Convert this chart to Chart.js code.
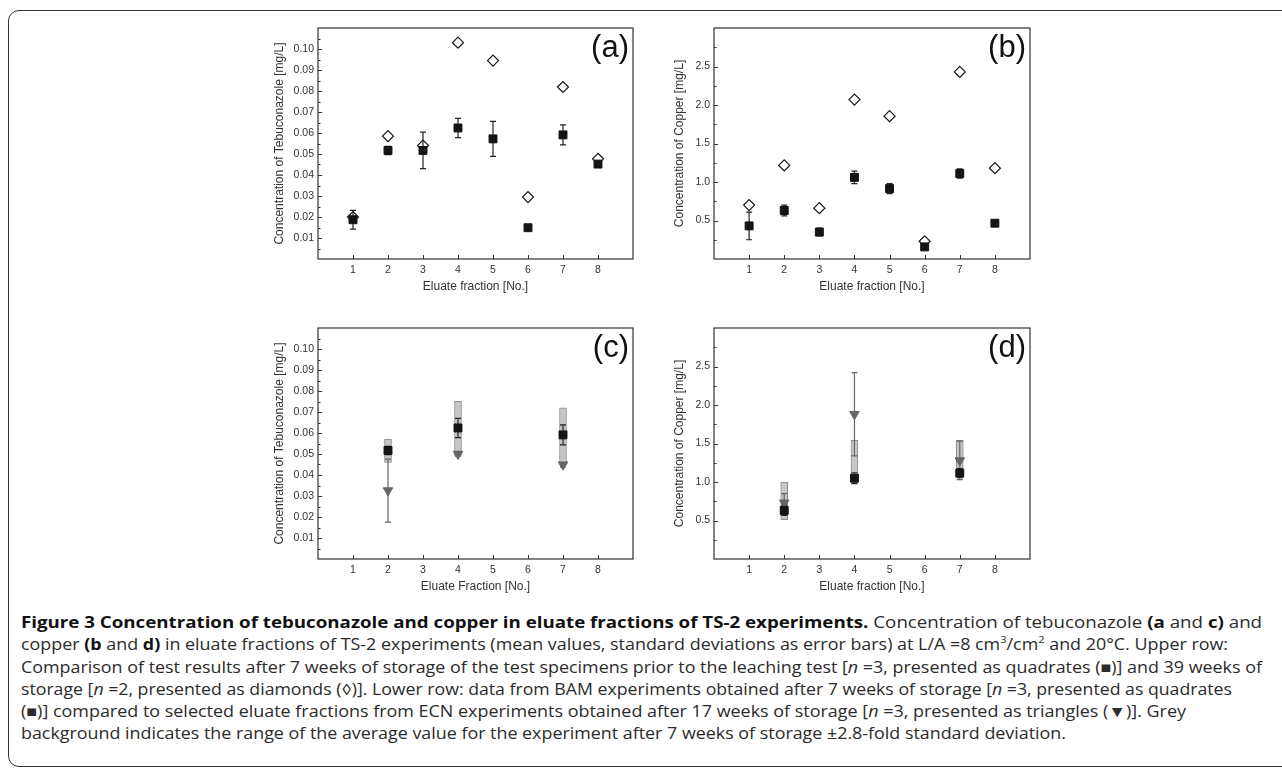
<!DOCTYPE html>
<html>
<head>
<meta charset="utf-8">
<script src="https://cdn.jsdelivr.net/npm/chart.js@4.4.1/dist/chart.umd.min.js"></script>
<style>
html,body{margin:0;padding:0;background:#fff;}
#page{position:absolute;left:0;top:0;width:1282px;height:770px;overflow:hidden;background:#fff;}
.frame{position:absolute;left:8px;top:10px;width:1400px;height:757px;border:1.6px solid #333;border-radius:11px;box-sizing:border-box;}
.panel{position:absolute;width:400px;height:300px;}
#caption{position:absolute;left:21px;top:611px;font-family:"Open Sans",sans-serif;color:#2b2b2b;white-space:nowrap;font-size:15.8px;}
#caption .ln{height:22.3px;line-height:22.3px;}
#caption .ln span{display:inline-block;transform-origin:0 50%;}
#caption b{color:#111;font-weight:700;}
#caption sup{font-size:0.62em;line-height:0;position:relative;top:-0.1em;}
</style>
</head>
<body>
<div id="page">
<div class="frame"></div>
<div class="panel" style="left:240px;top:0px;"><canvas id="pa" width="400" height="300"></canvas></div>
<div class="panel" style="left:640px;top:0px;"><canvas id="pb" width="400" height="300"></canvas></div>
<div class="panel" style="left:240px;top:300px;"><canvas id="pc" width="400" height="300"></canvas></div>
<div class="panel" style="left:640px;top:300px;"><canvas id="pd" width="400" height="300"></canvas></div>
<div id="caption">
<div class="ln"><span data-end="1262"><b>Figure 3 Concentration of tebuconazole and copper in eluate fractions of TS-2 experiments.</b> Concentration of tebuconazole <b>(a</b> and <b>c)</b> and</span></div>
<div class="ln"><span data-end="1228">copper <b>(b</b> and <b>d)</b> in eluate fractions of TS-2 experiments (mean values, standard deviations as error bars) at L/A =8 cm<sup>3</sup>/cm<sup>2</sup> and 20°C. Upper row:</span></div>
<div class="ln"><span data-end="1262">Comparison of test results after 7 weeks of storage of the test specimens prior to the leaching test [<i>n</i> =3, presented as quadrates (■)] and 39 weeks of</span></div>
<div class="ln"><span data-end="1232">storage [<i>n</i> =2, presented as diamonds (◊)]. Lower row: data from BAM experiments obtained after 7 weeks of storage [<i>n</i> =3, presented as quadrates</span></div>
<div class="ln"><span data-end="1186">(■)] compared to selected eluate fractions from ECN experiments obtained after 17 weeks of storage [<i>n</i> =3, presented as triangles (▼)]. Grey</span></div>
<div class="ln"><span data-end="1066">background indicates the range of the average value for the experiment after 7 weeks of storage ±2.8-fold standard deviation.</span></div>
</div>
</div>
<script>
// ---------- data ----------
const fractions = [1, 2, 3, 4, 5, 6, 7, 8];
const xTickValues = [1, 2, 3, 4, 5, 6, 7, 8];
const tebuTicks = [0.01, 0.02, 0.03, 0.04, 0.05, 0.06, 0.07, 0.08, 0.09, 0.10];
const copperTicks = [0.5, 1.0, 1.5, 2.0, 2.5];

// upper row (a): tebuconazole
const tebu7w   = [0.0187, 0.0517, 0.0517, 0.0624, 0.0572, 0.0149, 0.0591, 0.0452];
const tebu7wSd = [0.0045, 0.0020, 0.0087, 0.0046, 0.0083, 0.0010, 0.0048, 0.0008];
const tebu39w  = [0.0200, 0.0585, 0.0540, 0.1030, 0.0945, 0.0295, 0.0819, 0.0477];
// upper row (b): copper
const cu7w   = [0.43, 0.63, 0.35, 1.06, 0.915, 0.157, 1.11, 0.465];
const cu7wSd = [0.18, 0.07, 0.05, 0.08, 0.065, 0.03, 0.06, 0.03];
const cu39w  = [0.70, 1.215, 0.66, 2.07, 1.855, 0.23, 2.43, 1.18];

// lower row
const selFractions = [2, 4, 7];
const tebuBam     = [0.0517, 0.0624, 0.0591];
const tebuBamSd   = [0.0020, 0.0046, 0.0048];
const tebuEcn     = [0.0326, 0.0500, 0.0449];
const tebuEcnSd   = [0.0150, 0.0010, 0.0010];
const tebuRangeLo = [0.0460, 0.0495, 0.0455];
const tebuRangeHi = [0.0571, 0.0751, 0.0720];
const cuBam     = [0.63, 1.05, 1.115];
const cuBamSd   = [0.065, 0.07, 0.06];
const cuEcn     = [0.73, 1.88, 1.28];
const cuEcnSd   = [0.12, 0.54, 0.25];
const cuRangeLo = [0.51, 0.985, 1.07];
const cuRangeHi = [1.00, 1.54, 1.54];

// ---------- helpers ----------
const AX_FONT = {family: '"Liberation Sans", Arial, sans-serif', size: 10.5};
const TITLE_FONT = {family: '"Liberation Sans", Arial, sans-serif', size: 12};
const TXT = '#333';

const pts = (xs, ys) => xs.map((x, i) => ({x: x, y: ys[i]}));
const ranges = (xs, lo, hi) => xs.map((x, i) => ({x: x, y: [lo[i], hi[i]]}));

const decor = {
  id: 'decor',
  beforeDatasetsDraw(chart) { chart.$errDone = false; },
  afterDatasetDraw(chart) {
    if (chart.$errDone) return;
    chart.$errDone = true;
    const o = chart.options.plugins.decor;
    const ctx = chart.ctx, xs = chart.scales.x, ys = chart.scales.y;
    ctx.save();
    (o.errors || []).forEach(e => {
      ctx.strokeStyle = e.color; ctx.lineWidth = 1.2;
      e.xs.forEach((xv, i) => {
        const px = xs.getPixelForValue(xv);
        const top = ys.getPixelForValue(e.ys[i] + e.sds[i]);
        const bot = ys.getPixelForValue(e.ys[i] - e.sds[i]);
        ctx.beginPath();
        ctx.moveTo(px, top); ctx.lineTo(px, bot);
        ctx.moveTo(px - 3, top); ctx.lineTo(px + 3, top);
        ctx.moveTo(px - 3, bot); ctx.lineTo(px + 3, bot);
        ctx.stroke();
      });
    });
    ctx.restore();
  },
  afterDraw(chart) {
    const o = chart.options.plugins.decor;
    const ctx = chart.ctx, a = chart.chartArea;
    const xs = chart.scales.x, ys = chart.scales.y;
    ctx.save();
    ctx.strokeStyle = '#333'; ctx.lineWidth = 1.2;
    ctx.strokeRect(a.left, a.top, a.right - a.left, a.bottom - a.top);
    ctx.lineWidth = 1;
    ctx.beginPath();
    xTickValues.forEach(v => {
      const px = Math.round(xs.getPixelForValue(v)) + 0.5;
      ctx.moveTo(px, a.bottom); ctx.lineTo(px, a.bottom - 4);
    });
    const t = o.yTicks, step = t[1] - t[0];
    t.forEach(v => {
      const py = Math.round(ys.getPixelForValue(v)) + 0.5;
      ctx.moveTo(a.left, py); ctx.lineTo(a.left + 4, py);
    });
    t.concat([t[t.length - 1] + step]).forEach(v => {
      const py = Math.round(ys.getPixelForValue(v - step / 2)) + 0.5;
      ctx.moveTo(a.left, py); ctx.lineTo(a.left + 2.5, py);
    });
    ctx.stroke();
    ctx.fillStyle = '#111';
    ctx.font = '31px "Liberation Sans", Arial, sans-serif';
    ctx.textAlign = 'right'; ctx.textBaseline = 'middle';
    ctx.fillText(o.label, a.right - 4, a.top + 20);
    ctx.restore();
  }
};

function makePanel(id, cfg) {
  const datasets = [];
  if (cfg.ranges) {
    datasets.push({type: 'bar', data: cfg.ranges, backgroundColor: '#c6c6c6', borderColor: '#8e8e8e',
      borderWidth: 1, borderSkipped: false, barThickness: 7, order: 5});
  }
  cfg.series.forEach(s => datasets.push(Object.assign({type: 'scatter', showLine: false}, s)));
  new Chart(document.getElementById(id), {
    type: 'scatter',
    data: {datasets: datasets},
    options: {
      responsive: false, animation: false,
      layout: {padding: {left: 0, right: cfg.padRight, top: 28, bottom: 0}},
      plugins: {legend: {display: false}, tooltip: {enabled: false},
        decor: {label: cfg.label, yTicks: cfg.yTicks, errors: cfg.errors}},
      scales: {
        x: {type: 'linear', min: 0, max: 9, offset: false,
          afterBuildTicks: s => { s.ticks = xTickValues.map(v => ({value: v})); },
          afterFit: s => { s.height = 41; },
          grid: {display: false, drawTicks: false, offset: false}, border: {display: false},
          ticks: {padding: 5, color: TXT, font: AX_FONT},
          title: {display: true, text: cfg.xTitle, color: TXT, font: TITLE_FONT, padding: {top: 0, bottom: 6}}},
        y: {type: 'linear', min: 0, max: cfg.yMax,
          afterBuildTicks: s => { s.ticks = cfg.yTicks.map(v => ({value: v})); },
          afterFit: s => { s.width = cfg.yWidth; },
          grid: {display: false, drawTicks: false}, border: {display: false},
          ticks: {padding: 4, color: TXT, font: AX_FONT, callback: v => v.toFixed(cfg.dec)},
          title: {display: true, text: cfg.yTitle, color: TXT, font: TITLE_FONT, padding: {top: 32, bottom: 0}}}
      }
    },
    plugins: [decor]
  });
}

const squareStyle = {pointStyle: 'rect', pointRadius: 5.6, backgroundColor: '#141414', borderColor: '#141414', borderWidth: 1};
const diamondStyle = {pointStyle: 'rectRot', pointRadius: 5.5, backgroundColor: '#ffffff', borderColor: '#141414', borderWidth: 1.2};
const triStyle = {pointStyle: 'triangle', rotation: 180, pointRadius: 5.5, backgroundColor: '#666666', borderColor: '#666666', borderWidth: 1};

makePanel('pa', {label: '(a)', xTitle: 'Eluate fraction [No.]', yTitle: 'Concentration of Tebuconazole [mg/L]',
  yMax: 0.11, yTicks: tebuTicks, dec: 2, yWidth: 78, padRight: 7,
  series: [Object.assign({data: pts(fractions, tebu39w), order: 2}, diamondStyle),
           Object.assign({data: pts(fractions, tebu7w), order: 1}, squareStyle)],
  errors: [{xs: fractions, ys: tebu7w, sds: tebu7wSd, color: '#222'}]});

makePanel('pb', {label: '(b)', xTitle: 'Eluate fraction [No.]', yTitle: 'Concentration of Copper [mg/L]',
  yMax: 3.0, yTicks: copperTicks, dec: 1, yWidth: 74, padRight: 10,
  series: [Object.assign({data: pts(fractions, cu39w), order: 2}, diamondStyle),
           Object.assign({data: pts(fractions, cu7w), order: 1}, squareStyle)],
  errors: [{xs: fractions, ys: cu7w, sds: cu7wSd, color: '#222'}]});

makePanel('pc', {label: '(c)', xTitle: 'Eluate Fraction [No.]', yTitle: 'Concentration of Tebuconazole [mg/L]',
  yMax: 0.11, yTicks: tebuTicks, dec: 2, yWidth: 78, padRight: 7,
  ranges: ranges(selFractions, tebuRangeLo, tebuRangeHi),
  series: [Object.assign({data: pts(selFractions, tebuEcn), order: 2}, triStyle),
           Object.assign({data: pts(selFractions, tebuBam), order: 1}, squareStyle)],
  errors: [{xs: selFractions, ys: tebuEcn, sds: tebuEcnSd, color: '#666'},
           {xs: selFractions, ys: tebuBam, sds: tebuBamSd, color: '#222'}]});

makePanel('pd', {label: '(d)', xTitle: 'Eluate fraction [No.]', yTitle: 'Concentration of Copper [mg/L]',
  yMax: 3.0, yTicks: copperTicks, dec: 1, yWidth: 74, padRight: 10,
  ranges: ranges(selFractions, cuRangeLo, cuRangeHi),
  series: [Object.assign({data: pts(selFractions, cuEcn), order: 2}, triStyle),
           Object.assign({data: pts(selFractions, cuBam), order: 1}, squareStyle)],
  errors: [{xs: selFractions, ys: cuEcn, sds: cuEcnSd, color: '#666'},
           {xs: selFractions, ys: cuBam, sds: cuBamSd, color: '#222'}]});

// fit each caption line to its measured extent in the reference
document.querySelectorAll('#caption .ln span').forEach(sp => {
  const target = parseFloat(sp.dataset.end) - 21;
  const w = sp.getBoundingClientRect().width;
  sp.style.transform = 'scaleX(' + (target / w).toFixed(4) + ')';
});
</script>
</body>
</html>
